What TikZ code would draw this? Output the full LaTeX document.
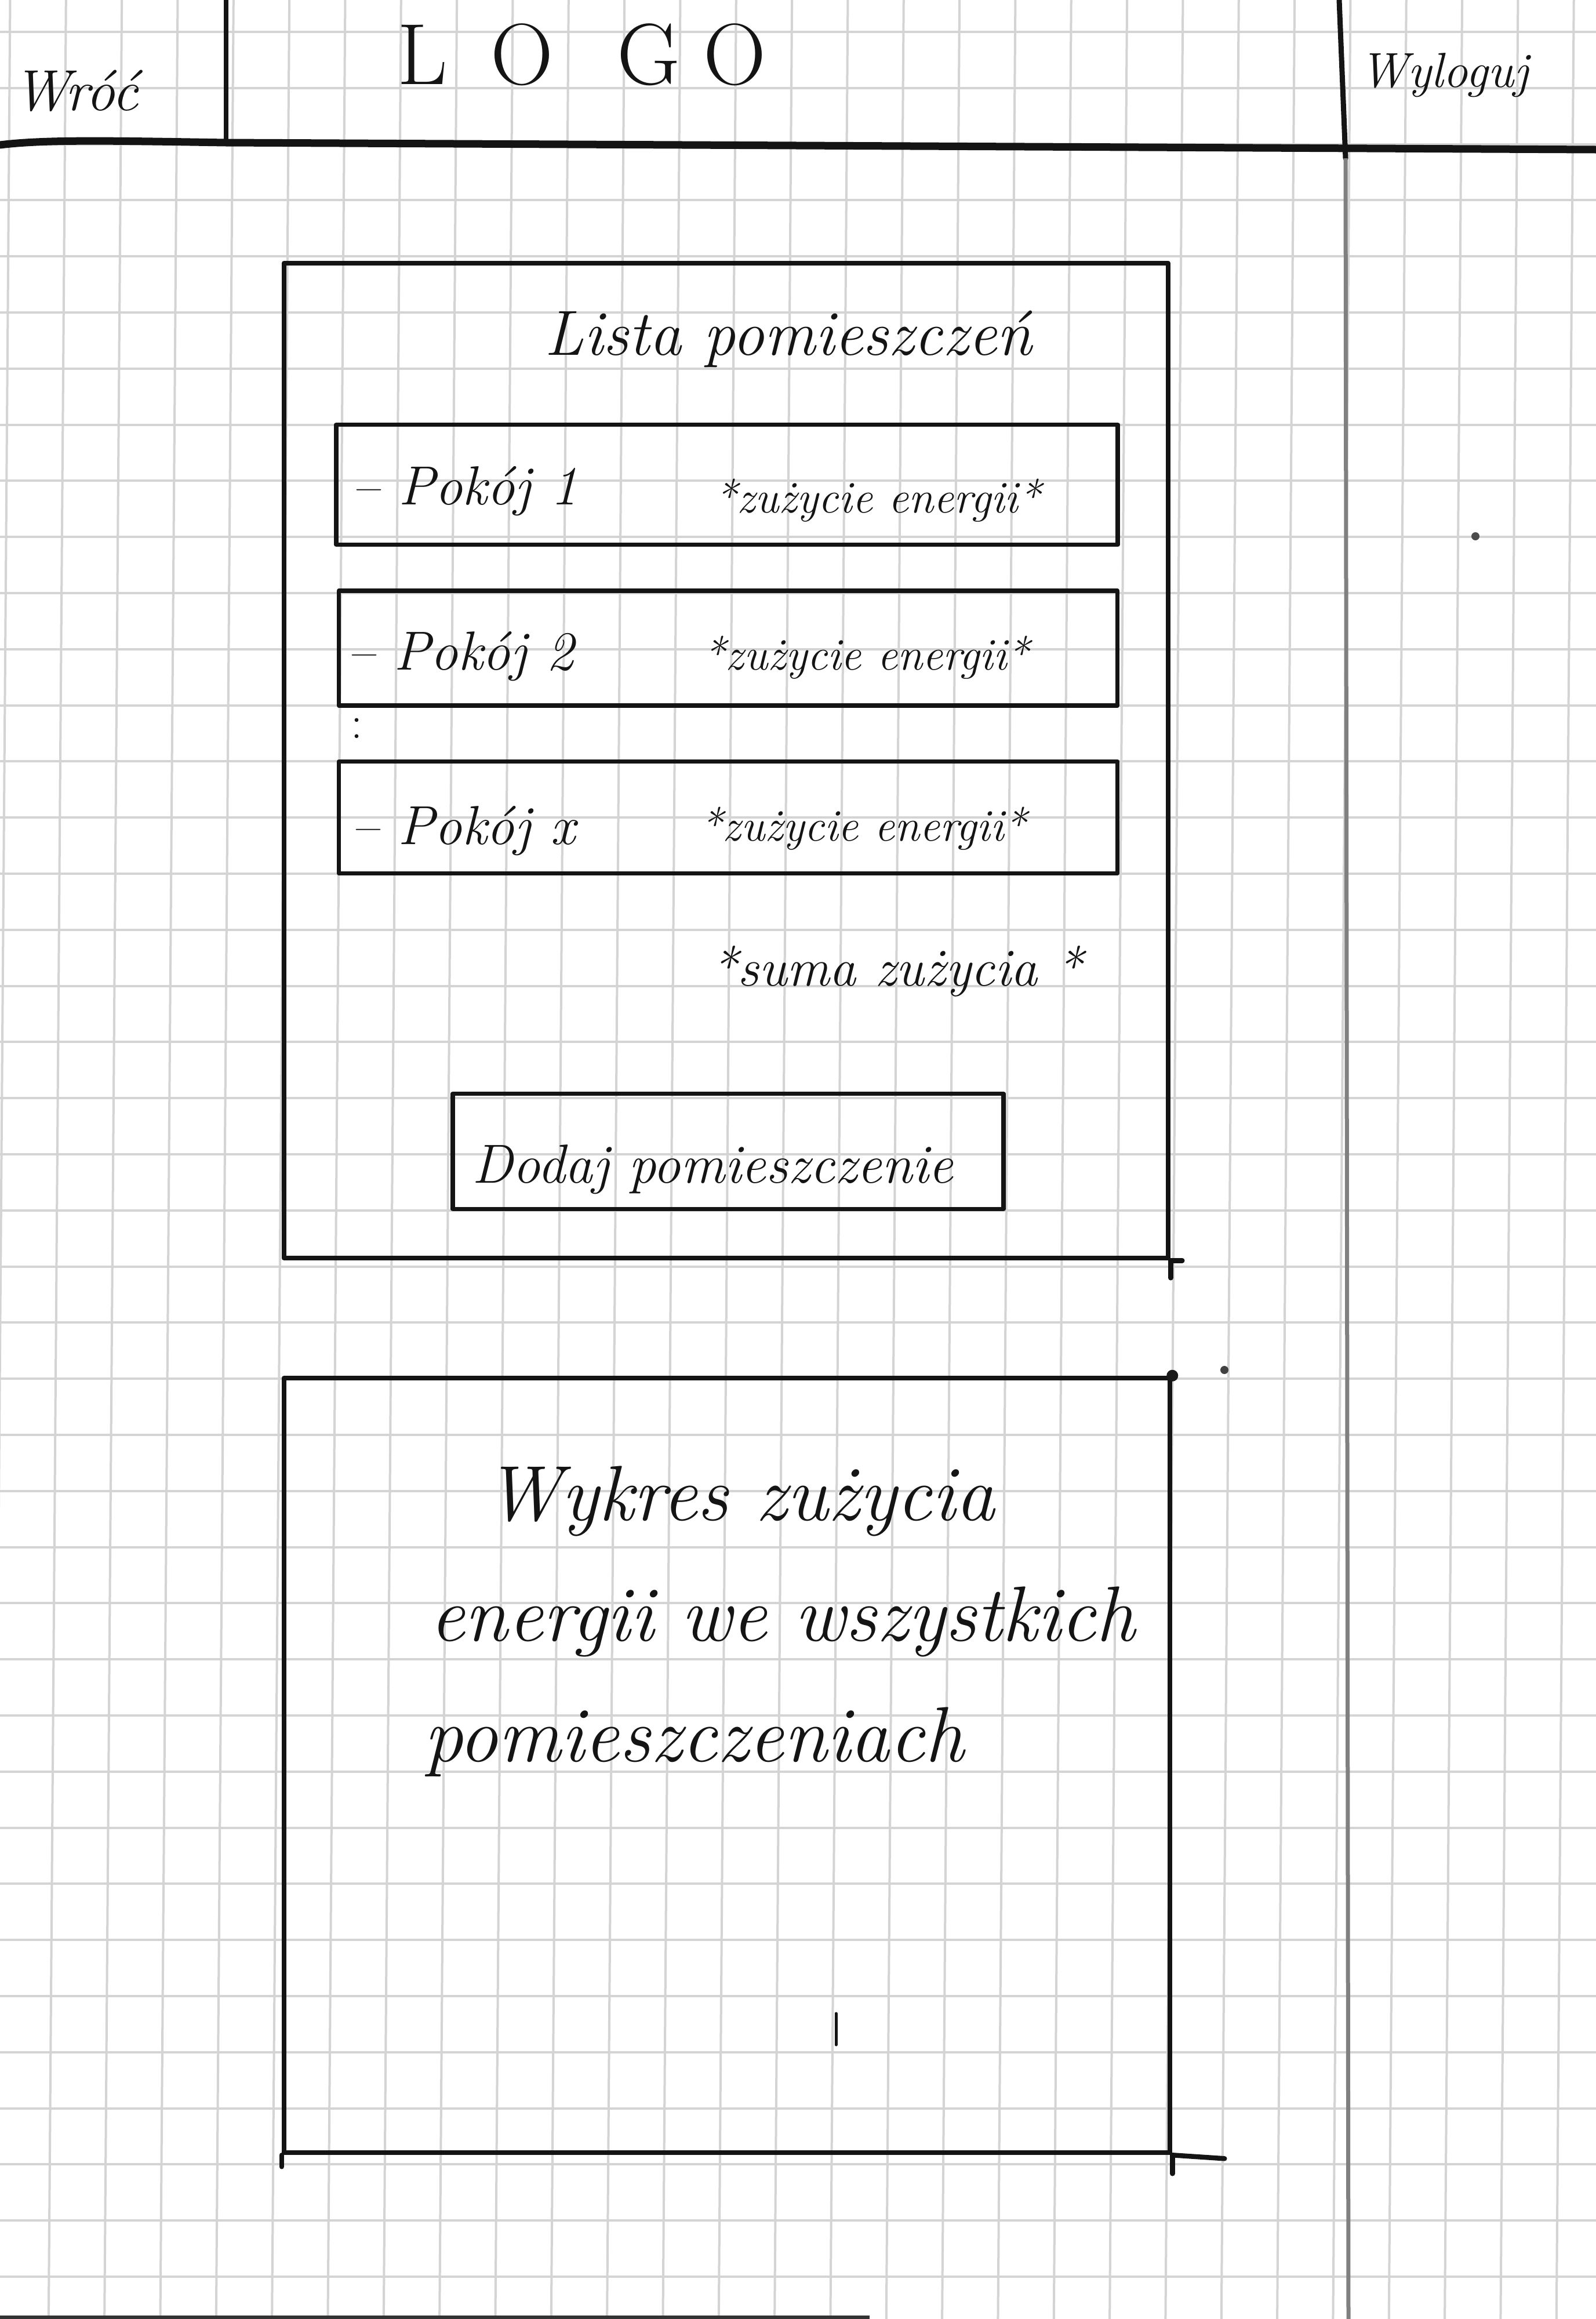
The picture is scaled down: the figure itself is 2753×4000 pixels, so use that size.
\documentclass[tikz,border=0pt]{standalone}
\usepackage{fontspec}
\usetikzlibrary{calc}
\begin{document}
\begin{tikzpicture}[x=1pt,y=-1pt,
  ink/.style={draw=black!92, line width=8.5pt, line cap=round, line join=round},
  gridline/.style={draw=black!17, line width=4pt},
  panel/.style={ink, rectangle, inner sep=0pt},
  rowbox/.style={ink, line width=7.5pt, rectangle, inner sep=0pt},
  hand/.style={text=black!92, inner sep=0pt, font=\itshape},
]
% paper
\fill[white] (0,0) rectangle (2753,4000);
\useasboundingbox (0,0) rectangle (2753,4000);

% squared paper
\foreach \k in {0,...,29} {
  \draw[gridline] ({17.5+96.33*\k},0) -- ({-12.5+96.33*\k},4000);
}
\foreach \k in {0,...,41} {
  \draw[gridline] (0,{55+96.8*\k}) -- (2753,{55+96.8*\k});
}

% header bar
\coordinate (hl) at (0,250);
\coordinate (hm) at (390,246);
\coordinate (hr) at (2753,258);
\coordinate (v1t) at (390,0);
\coordinate (v2t) at (2310,0);
\coordinate (v2b) at (2321,273);
\coordinate (sideb) at (2326,4000);
\draw[ink, line width=13pt] (hl) .. controls (80,240) and (200,243) .. (hm) -- (hr);
\draw[ink] (v1t) -- (hm);
\draw[ink, line width=9pt] (v2t) -- (v2b);
\draw[draw=black!50, line width=7pt] (v2b) -- (sideb);

\node[hand, anchor=base west, font=\fontsize{100}{115}\selectfont\itshape] (back) at (22,190) {Wróć};
\node[hand, anchor=base west, font=\fontsize{150}{170}\selectfont] (logo) at (685,145)
  {L\kern75pt O\kern110pt G\kern40pt O};
\node[hand, anchor=base west, font=\fontsize{85}{100}\selectfont\itshape] (logout) at (2345,150) {Wyloguj};

% room list panel
\node[panel, minimum width=1525pt, minimum height=1716pt] (list) at (1252.5,1312) {};
\draw[ink] (list.south east) -- ++(20,0);
\draw[ink] (list.south east) -- ++(0,30);
\node[hand, anchor=base, font=\fontsize{110}{130}\selectfont\itshape] (title) at (1360,612) {Lista pomieszczeń};

\node[rowbox, minimum width=1348pt, minimum height=207pt] (r1) at (1254,836) {};
\node[rowbox, minimum width=1343pt, minimum height=198pt] (r2) at (1256,1118) {};
\node[rowbox, minimum width=1343pt, minimum height=193pt] (r3) at (1256,1410) {};

\tikzset{roomname/.style={hand, anchor=base west, font=\fontsize{95}{110}\selectfont\itshape},
         usage/.style={hand, anchor=base west, font=\fontsize{78}{90}\selectfont\itshape}}
\node[roomname] (n1) at ($(r1.west)+(30,34)$) {– Pokój 1};
\node[usage] (u1) at ($(r1.west)+(656,48)$) {*zużycie energii*};
\node[roomname] (n2) at ($(r2.west)+(18,37)$) {– Pokój 2};
\node[usage] (u2) at ($(r2.west)+(632,37)$) {*zużycie energii*};
\node[roomname] (n3) at ($(r3.west)+(25,46)$) {– Pokój x};
\node[usage] (u3) at ($(r3.west)+(627,40)$) {*zużycie energii*};
\node[hand, font=\fontsize{80}{90}\selectfont] (dots) at (615,1256) {:};

\node[hand, anchor=base west, font=\fontsize{92}{110}\selectfont\itshape] (total) at (1226,1700) {*suma zużycia *};

\node[rowbox, minimum width=950pt, minimum height=199pt] (add) at (1256,1986) {};
\node[hand, anchor=base west, font=\fontsize{95}{110}\selectfont\itshape] (addtext) at ($(add.west)+(37,54)$) {Dodaj pomieszczenie};

% chart panel
\node[panel, minimum width=1528pt, minimum height=1336pt] (chart) at (1254,3045) {};
\draw[ink] (chart.south east) -- ++(90,6);
\draw[ink] (chart.south east) -- ++(0,32);
\draw[ink] (chart.south west) -- ++(0,20);
\fill[black!90] (chart.north east) circle (10pt);

\tikzset{charttext/.style={hand, anchor=base west, font=\fontsize{135}{160}\selectfont\itshape}}
\node[charttext] (c1) at (836,2622) {Wykres zużycia};
\node[charttext] (c2) at (741,2830) {energii we wszystkich};
\node[charttext] (c3) at (731,3038) {pomieszczeniach};

\coordinate (tickt) at (1442,3473);
\coordinate (tickb) at (1442,3527);
\draw[ink, line width=5pt] (tickt) -- (tickb);

% stray pen dots and paper edge
\fill[black!75] (2112,2363) circle (7pt);
\fill[black!70] (2545,925) circle (7pt);
\coordinate (el) at (0,3997);
\coordinate (er) at (1500,3997);
\draw[draw=black!80, line width=6pt] (el) -- (er);
\end{tikzpicture}
\end{document}
